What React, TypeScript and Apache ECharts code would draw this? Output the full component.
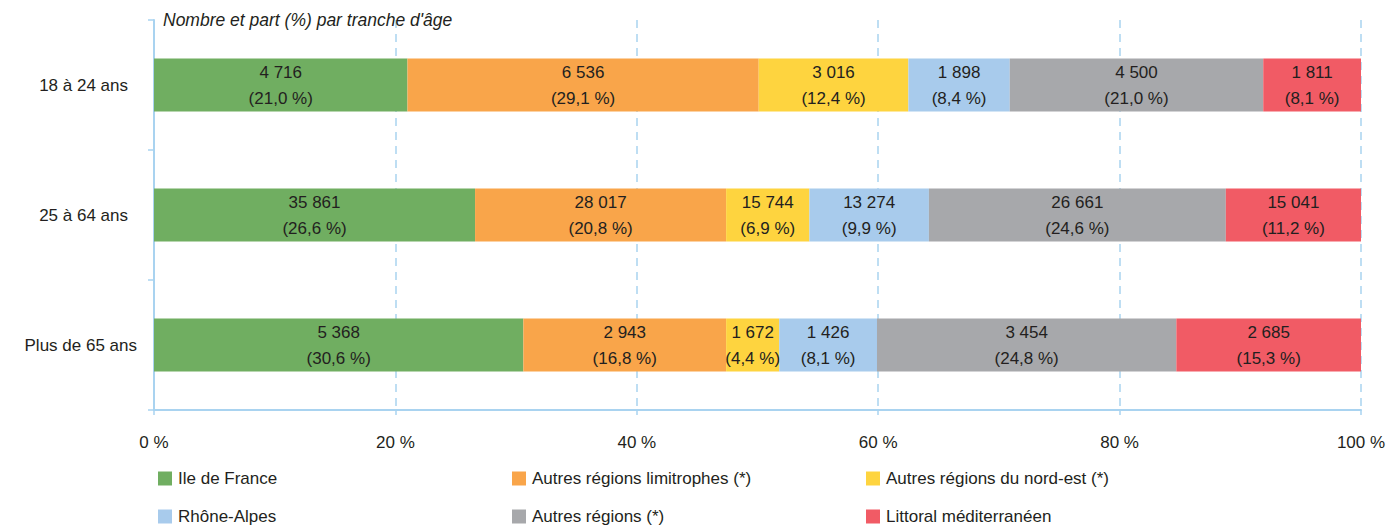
import React, { useEffect, useRef } from "react";
import * as echarts from "echarts";

const categories = ["18 à 24 ans", "25 à 64 ans", "Plus de 65 ans"];
const seriesNames = [
  "Ile de France",
  "Autres régions limitrophes (*)",
  "Autres régions du nord-est (*)",
  "Rhône-Alpes",
  "Autres régions (*)",
  "Littoral méditerranéen",
];
const seriesColors = ["#70ae61", "#f9a54a", "#fed43f", "#a8cbec", "#a7a8ab", "#f15b65"];
const counts = [
  [4716, 35861, 5368],
  [6536, 28017, 2943],
  [3016, 15744, 1672],
  [1898, 13274, 1426],
  [4500, 26661, 3454],
  [1811, 15041, 2685],
];
const shares = [
  [21.0, 26.6, 30.6],
  [29.1, 20.8, 16.8],
  [12.4, 6.9, 4.4],
  [8.4, 9.9, 8.1],
  [21.0, 24.6, 24.8],
  [8.1, 11.2, 15.3],
];
const xTicks = [0, 20, 40, 60, 80, 100];
const title = "Nombre et part (%) par tranche d'âge";

const FONT = "'Liberation Sans', Arial, sans-serif";
const FS = 17;
const TXT = "#231f20";
const AXIS = "#a9d3f0";

const fmtCount = (n: number) => String(n).replace(/\B(?=(\d{3})+(?!\d))/g, " ");
const fmtShare = (v: number) => v.toFixed(1).replace(".", ",");

const legendPos = [
  [158, 470],
  [512, 470],
  [866, 470],
  [158, 508],
  [512, 508],
  [866, 508],
];

export default function App() {
  const ref = useRef<HTMLDivElement>(null);
  useEffect(() => {
    if (!ref.current) return;
    document.body.style.margin = "0";
    document.body.style.overflow = "hidden";
    const chart = echarts.init(ref.current, undefined, { renderer: "svg" });
    const option: any = {
      animation: false,
      backgroundColor: "#ffffff",
      textStyle: { fontFamily: FONT },
      grid: { left: 154, right: 35, top: 20, bottom: 117, containLabel: false },
      title: {
        text: title,
        left: 163,
        top: 11,
        padding: 0,
        textStyle: { fontFamily: FONT, fontSize: 17.5, fontStyle: "italic", fontWeight: "normal", color: TXT },
      },
      legend: seriesNames.map((name, i) => ({
        data: [name],
        left: legendPos[i][0],
        top: legendPos[i][1],
        padding: 0,
        icon: "rect",
        itemWidth: 14,
        itemHeight: 14,
        itemGap: 0,
        selectedMode: false,
        textStyle: { fontFamily: FONT, fontSize: FS, color: TXT, padding: [0, 0, 0, 1] },
      })),
      xAxis: {
        type: "value",
        min: xTicks[0],
        max: xTicks[xTicks.length - 1],
        interval: 20,
        axisLine: { show: true, lineStyle: { color: AXIS, width: 2 } },
        axisTick: { show: true, length: 5, lineStyle: { color: AXIS, width: 1.5 } },
        axisLabel: {
          formatter: "{value} %",
          fontFamily: FONT,
          fontSize: FS,
          color: TXT,
          margin: 24,
        },
        splitLine: { show: true, lineStyle: { color: AXIS, width: 1.5, type: [8, 6] } },
      },
      yAxis: {
        type: "category",
        data: categories,
        inverse: true,
        axisLine: { show: true, lineStyle: { color: AXIS, width: 2 } },
        axisTick: { show: true, length: 6, lineStyle: { color: AXIS, width: 1.5 } },
        axisLabel: {
          margin: 17,
          fontFamily: FONT,
          fontSize: FS,
          color: TXT,
          formatter: (v: string, idx: number) => (idx === 2 ? `{b|${v}}` : `{a|${v}}`),
          rich: {
            a: { fontFamily: FONT, fontSize: FS, color: TXT, padding: [0, 9, 0, 0] },
            b: { fontFamily: FONT, fontSize: FS, color: TXT, padding: [0, 0, 0, 0] },
          },
        },
        splitLine: { show: false },
      },
      series: seriesNames.map((name, i) => ({
        name,
        type: "bar",
        stack: "total",
        barWidth: 53,
        itemStyle: { color: seriesColors[i] },
        label: {
          show: true,
          position: "inside",
          fontFamily: FONT,
          fontSize: FS,
          lineHeight: 26,
          color: TXT,
          formatter: (p: any) =>
            `${fmtCount(counts[i][p.dataIndex])}\n(${fmtShare(shares[i][p.dataIndex])} %)`,
        },
        data: shares[i],
      })),
    };
    chart.setOption(option);
    return () => chart.dispose();
  }, []);
  return <div ref={ref} style={{ position: "absolute", left: 0, top: 0, width: 1396, height: 527 }} />;
}
